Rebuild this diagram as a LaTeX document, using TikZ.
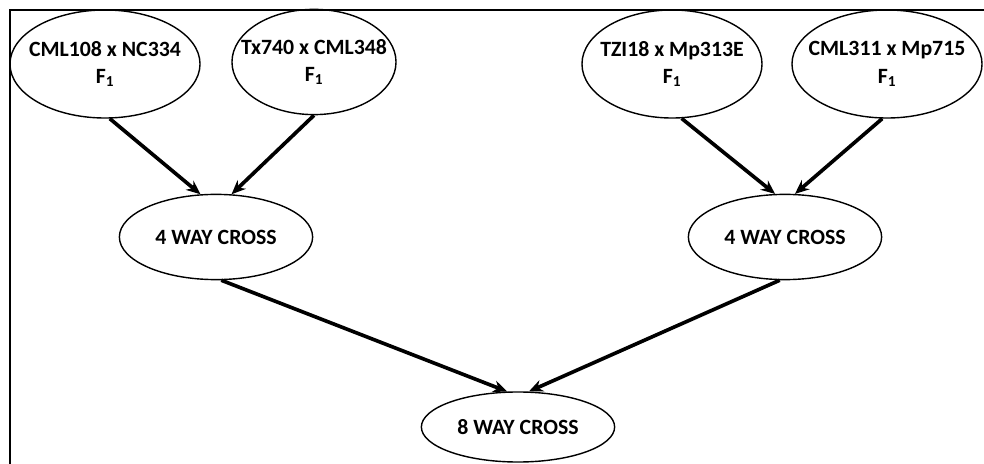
\documentclass[tikz,border=0pt]{standalone}
\usepackage{fontspec}
\setmainfont{Carlito}
\usepackage{tikz}
\usetikzlibrary{arrows.meta,shapes.geometric}

\begin{document}
\begin{tikzpicture}[x=0.025cm,y=-0.025cm]
	\useasboundingbox (0,0) rectangle (984,464);

	% Draw the frame.
	\draw [line width=2pt] (10,464) -- (10,10) -- (984,10);

	\tikzstyle{cross oval}=[draw, ellipse, line width=1pt, inner sep=0pt]
	\tikzstyle{cross text}=[align=center, inner sep=0pt, font=\fontsize{15.5}{19.5}\selectfont\bfseries]
	\tikzstyle{cross arrow}=[line width=2.6pt, -{Stealth[length=10pt,width=8.5pt]}]

	% Parent F1 hybrids.
	\node (e1) at (105,64) [cross oval, minimum width=4.75cm, minimum height=2.7cm] {};
	\node (e2) at (314,62) [cross oval, minimum width=4.1cm, minimum height=2.63cm] {};
	\node (e3) at (672,64) [cross oval, minimum width=4.5cm, minimum height=2.7cm] {};
	\node (e4) at (887,64) [cross oval, minimum width=4.75cm, minimum height=2.7cm] {};
	\node (t1) at (e1) [cross text] {CML108 x NC334\\F\textsubscript{1}};
	\node (t2) at (e2) [cross text] {Tx740 x CML348\\F\textsubscript{1}};
	\node (t3) at (e3) [cross text] {TZI18 x Mp313E\\F\textsubscript{1}};
	\node (t4) at (e4) [cross text] {CML311 x Mp715\\F\textsubscript{1}};

	% Four way and eight way crosses.
	\node (m1) at (216,237) [cross oval, minimum width=4.83cm, minimum height=2.13cm] {};
	\node (m2) at (785,237) [cross oval, minimum width=4.83cm, minimum height=2.13cm] {};
	\node (b) at (518,427) [cross oval, minimum width=4.83cm, minimum height=1.75cm] {};
	\node (m1t) at (m1) [cross text] {4 WAY CROSS};
	\node (m2t) at (m2) [cross text] {4 WAY CROSS};
	\node (bt) at (b) [cross text] {8 WAY CROSS};

	\draw [cross arrow] (e1.-85) -- (m1.110);
	\draw [cross arrow] (e2.south) -- (m1.70);
	\draw [cross arrow] (e3.-80) -- (m2.103);
	\draw [cross arrow] (e4.-95) -- (m2.77);
	\draw [cross arrow] (m1.-83) -- (b.107);
	\draw [cross arrow] (m2.-97) -- (b.73);
\end{tikzpicture}
\end{document}
